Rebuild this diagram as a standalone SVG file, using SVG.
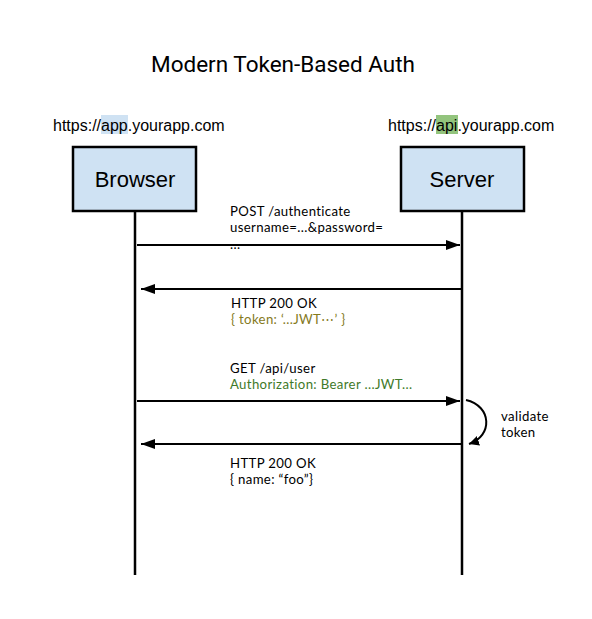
<svg xmlns="http://www.w3.org/2000/svg" width="592" height="619" viewBox="0 0 592 619">
<style>
.title{font-family:Roboto,"Liberation Sans",sans-serif;font-size:22.5px;fill:#000}
.url{font-family:"Liberation Sans",Arial,sans-serif;font-size:16px;fill:#000}
.box{fill:#cfe2f3;stroke:#000;stroke-width:2.5}
.lbl{font-family:"Liberation Sans",Arial,sans-serif;font-size:22px;fill:#000;text-anchor:middle}
.life{stroke:#000;stroke-width:2.5;fill:none}
.msg{stroke:#000;stroke-width:2;fill:none;marker-end:url(#ah)}
.t{font-family:Lato,"Noto Sans",sans-serif;font-size:13.2px;letter-spacing:0.35px;fill:#000}
.tok{fill:#857a1c}
.auth{fill:#3f7a2a}
</style>
<defs>
<marker id="ah" viewBox="0 0 14 10" refX="14" refY="5" markerWidth="14" markerHeight="10" markerUnits="userSpaceOnUse" orient="auto">
<path d="M0,0 L14,5 L0,10 Z" fill="#000"/>
</marker>
<marker id="ah2" viewBox="0 0 10 10" refX="10" refY="5" markerWidth="10" markerHeight="10" markerUnits="userSpaceOnUse" orient="auto">
<path d="M0,0 L10,5 L0,10 Z" fill="#000"/>
</marker>
</defs>
<rect width="592" height="619" fill="#fff"/>
<text class="title" x="151" y="72">Modern Token-Based Auth</text>
<rect x="101" y="115" width="27" height="19" fill="#cfe2f3"/>
<text class="url" x="53" y="131">https://app.yourapp.com</text>
<rect x="436" y="115" width="22" height="19" fill="#93c47d"/>
<text class="url" x="388" y="131">https://api.yourapp.com</text>
<g id="browser">
<rect class="box" x="73" y="147" width="123" height="64"/>
<text class="lbl" x="135" y="187">Browser</text>
<line class="life" x1="135" y1="211" x2="135" y2="575"/>
</g>
<g id="server">
<rect class="box" x="401" y="147" width="123" height="64"/>
<text class="lbl" x="462" y="187">Server</text>
<line class="life" x1="462" y1="211" x2="462" y2="575"/>
</g>
<g id="connectors">
<line class="msg" x1="137" y1="245" x2="460" y2="245"/>
<line class="msg" x1="461" y1="289" x2="141" y2="289"/>
<line class="msg" x1="137" y1="401" x2="460" y2="401"/>
<line class="msg" x1="461" y1="444" x2="141" y2="444"/>
<path d="M466,400 C492,406 493,436 469,444" fill="none" stroke="#000" stroke-width="2" marker-end="url(#ah2)"/>
</g>
<g id="labels">
<text class="t" x="230" y="216">POST /authenticate<tspan x="230" dy="16">username=...&amp;password=</tspan><tspan x="230" dy="17">...</tspan></text>
<text class="t" x="231" y="308">HTTP 200 OK<tspan class="tok" x="231" dy="16">{ token: ‘...JWT⋯’ }</tspan></text>
<text class="t" x="230" y="373">GET /api/user<tspan class="auth" x="230" dy="16">Authorization: Bearer ...JWT...</tspan></text>
<text class="t" x="501" y="421">validate<tspan x="501" dy="16">token</tspan></text>
<text class="t" x="230" y="468">HTTP 200 OK<tspan x="230" dy="16">{ name: “foo”}</tspan></text>
</g>
</svg>
